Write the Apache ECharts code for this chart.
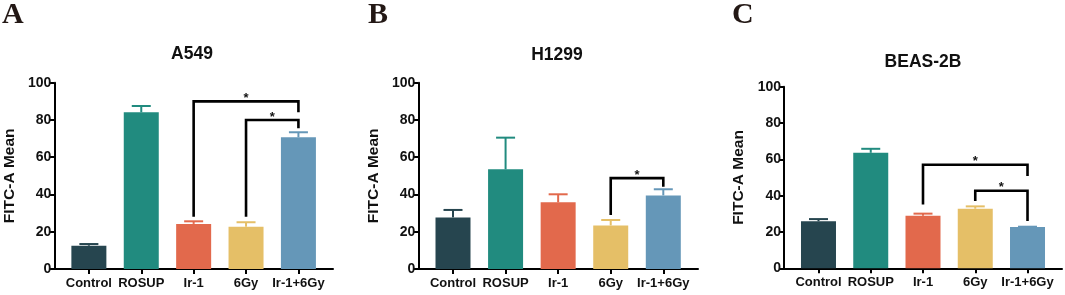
<!DOCTYPE html>
<html>
<head>
<meta charset="utf-8">
<script src="https://cdn.jsdelivr.net/npm/echarts@6/dist/echarts.min.js"></script>
<style>
html,body{margin:0;padding:0;background:#fff;}
#chart{width:1065px;height:295px;}
</style>
</head>
<body>
<div id="chart"></div>
<script>
// ---- data ----
const categories = ['Control', 'ROSUP', 'Ir-1', '6Gy', 'Ir-1+6Gy'];
const barColors = ['#26454f', '#218b7f', '#e2694c', '#e5bf67', '#6597b8'];
const yTicks = [0, 20, 40, 60, 80, 100];

const panelLetters = ['A', 'B', 'C'];
const panelTitles = ['A549', 'H1299', 'BEAS-2B'];

const a549Mean = [12.5, 84.1, 24.2, 22.7, 70.7];
const a549Err  = [0.9, 3.4, 1.4, 2.4, 2.7];
const h1299Mean = [27.7, 53.5, 35.8, 23.4, 39.5];
const h1299Err  = [4.0, 17.0, 4.3, 2.9, 3.3];
const beasMean = [25.9, 63.6, 29.0, 32.8, 22.7];
const beasErr  = [1.2, 2.2, 1.1, 1.3, 0.2];

// significance brackets: [fromIndex, toIndex, level, leftLegEnd, rightLegEnd, label]
const a549Sig = [[2, 4, 90, 28, 84.2, '*'], [3, 4, 80, 28, 75.5, '*']];
const h1299Sig = [[3, 4, 48.8, 29, 44.2, '*']];
const beasSig = [[2, 4, 57, 35.2, 50.8, '*'], [3, 4, 42.7, 37, 26, '*']];

const panelMeans = [a549Mean, h1299Mean, beasMean];
const panelErrs = [a549Err, h1299Err, beasErr];
const panelSigs = [a549Sig, h1299Sig, beasSig];

// ---- layout ----
const grids = [
  {left: 54.3, top: 82.7, width: 278.7, height: 186.3},
  {left: 418.3, top: 82.7, width: 279.7, height: 186.3},
  {left: 784, top: 86.7, width: 278, height: 181.6}
];
const titlePos = [[192, 54], [557, 55], [923, 62.5]];
const letterPos = [[2, 0], [368, 0], [732, 0]];
const FONT = '"Liberation Sans", Arial, sans-serif';

const chart = echarts.init(document.getElementById('chart'), null, {renderer: 'canvas'});

const xAxes = [], yAxes = [], series = [], graphics = [];

grids.forEach((g, p) => {
  xAxes.push({
    type: 'value', gridIndex: p, min: -0.66, max: 4.66, position: 'bottom',
    axisLine: {show: true, onZero: false, lineStyle: {color: '#000', width: 2}},
    axisTick: {show: true, length: 5, lineStyle: {color: '#000', width: 2}, customValues: categories.map((c, i) => i)},
    axisLabel: {
      show: true, margin: 8, color: '#111', fontFamily: FONT, fontWeight: 'bold', fontSize: 13,
      customValues: categories.map((c, i) => i),
      formatter: v => categories[Math.round(v)]
    },
    splitLine: {show: false}
  });
  yAxes.push({
    type: 'value', gridIndex: p, min: 0, max: 100, interval: 20, position: 'left',
    name: 'FITC-A Mean', nameLocation: 'middle', nameGap: 37,
    nameTextStyle: {fontFamily: FONT, fontWeight: 'bold', fontSize: 15.5, color: '#111'},
    axisLine: {show: true, onZero: false, lineStyle: {color: '#000', width: 2}},
    axisTick: {show: true, length: 5, lineStyle: {color: '#000', width: 2}},
    axisLabel: {margin: 3, color: '#111', fontFamily: FONT, fontWeight: 'bold', fontSize: 14,
      customValues: yTicks},
    splitLine: {show: false}
  });

  const means = panelMeans[p], errs = panelErrs[p], sigs = panelSigs[p];

  series.push({
    type: 'bar', xAxisIndex: p, yAxisIndex: p, barWidth: 35,
    data: means.map((v, i) => ({value: [i, v], itemStyle: {color: barColors[i]}})),
    silent: true, animation: false
  });

  // error bars (upper only)
  series.push({
    type: 'custom', xAxisIndex: p, yAxisIndex: p, animation: false, silent: true,
    data: means.map((v, i) => [i, v, v + errs[i]]),
    renderItem: (params, api) => {
      const i = api.value(0);
      const base = api.coord([i, api.value(1)]);
      const top = api.coord([i, api.value(2)]);
      const col = barColors[i];
      return {
        type: 'group',
        children: [
          {type: 'line', shape: {x1: base[0], y1: base[1], x2: top[0], y2: top[1]}, style: {stroke: col, lineWidth: 2}},
          {type: 'line', shape: {x1: top[0] - 9.5, y1: top[1], x2: top[0] + 9.5, y2: top[1]}, style: {stroke: col, lineWidth: 2}}
        ]
      };
    }
  });

  // significance brackets
  series.push({
    type: 'custom', xAxisIndex: p, yAxisIndex: p, animation: false, silent: true, z: 5,
    data: sigs.map(s => [s[0], s[1], s[2], s[3], s[4]]),
    renderItem: (params, api) => {
      const a = api.value(0), b = api.value(1), lvl = api.value(2);
      const p1 = api.coord([a, api.value(3)]);
      const p2 = api.coord([a, lvl]);
      const p3 = api.coord([b, lvl]);
      const p4 = api.coord([b, api.value(4)]);
      return {
        type: 'group',
        children: [
          {type: 'polyline', shape: {points: [p1, p2, p3, p4]}, style: {stroke: '#000', lineWidth: 2.6, fill: null, lineJoin: 'miter'}},
          {type: 'text', style: {text: sigs[params.dataIndex][5], x: (p2[0] + p3[0]) / 2, y: p2[1] - 3,
            textAlign: 'center', textVerticalAlign: 'middle', font: 'bold 13px ' + FONT, fill: '#111'}}
        ]
      };
    }
  });

  graphics.push({
    type: 'text', x: titlePos[p][0], y: titlePos[p][1],
    style: {text: panelTitles[p], font: 'bold 17.5px ' + FONT, fill: '#111', textAlign: 'center', textVerticalAlign: 'middle'}
  });
  graphics.push({
    type: 'text', x: letterPos[p][0], y: letterPos[p][1],
    style: {text: panelLetters[p], font: 'bold 30px "Liberation Serif", "Times New Roman", serif', fill: '#231815', textAlign: 'left', textVerticalAlign: 'top'}
  });
});

chart.setOption({
  animation: false,
  backgroundColor: '#fff',
  grid: grids.map(g => Object.assign({containLabel: false}, g)),
  xAxis: xAxes,
  yAxis: yAxes,
  series: series,
  graphic: graphics
});
</script>
</body>
</html>
